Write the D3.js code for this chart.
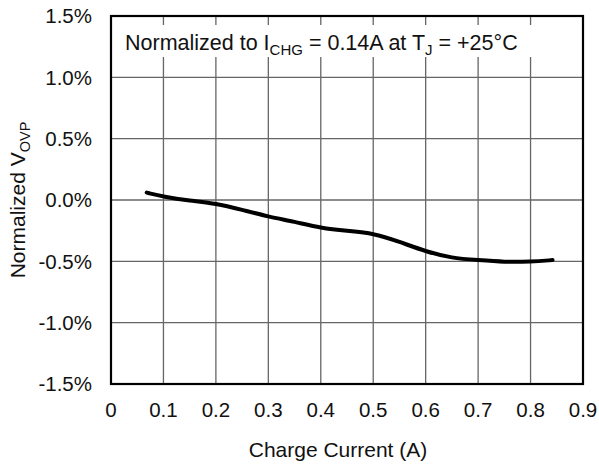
<!DOCTYPE html>
<html>
<head>
<meta charset="utf-8">
<script src="https://cdn.jsdelivr.net/npm/d3@7"></script>
<style>
  body { margin: 0; background: #fff; }
  text { font-family: "Liberation Sans", Arial, sans-serif; fill: #111; }
</style>
</head>
<body>
<div id="chart"></div>
<script>
// Datos (corriente en A, V_OVP normalizado en %)
const corriente = [0.068, 0.10, 0.15, 0.20, 0.25, 0.30, 0.35, 0.40, 0.45, 0.50, 0.55, 0.60, 0.65, 0.70, 0.75, 0.80, 0.842];
const vovp = [0.06, 0.027, -0.005, -0.027, -0.08, -0.136, -0.177, -0.228, -0.252, -0.27, -0.34, -0.42, -0.474, -0.49, -0.506, -0.503, -0.49];
const xTicks = [0, 0.1, 0.2, 0.3, 0.4, 0.5, 0.6, 0.7, 0.8, 0.9];
const yTicks = [-1.5, -1.0, -0.5, 0.0, 0.5, 1.0, 1.5];

const width = 599, height = 465;
const margin = { left: 111, right: 16, top: 16, bottom: 81 };

const svg = d3.select("#chart").append("svg")
    .attr("width", width)
    .attr("height", height);

const x = d3.scaleLinear().domain([0, 0.9]).range([margin.left, width - margin.right]);
const y = d3.scaleLinear().domain([-1.5, 1.5]).range([height - margin.bottom, margin.top]);

// Rejilla
svg.append("g")
    .selectAll("line.v")
    .data(xTicks.slice(1, -1))
    .join("line")
    .attr("x1", d => x(d)).attr("x2", d => x(d))
    .attr("y1", y(1.5)).attr("y2", y(-1.5))
    .attr("stroke", "#666").attr("stroke-width", 1.3);

svg.append("g")
    .selectAll("line.h")
    .data(yTicks.slice(1, -1))
    .join("line")
    .attr("x1", x(0)).attr("x2", x(0.9))
    .attr("y1", d => y(d)).attr("y2", d => y(d))
    .attr("stroke", "#666").attr("stroke-width", 1.3);

// Caja blanca detras del titulo
svg.append("rect")
    .attr("x", x(0) + 3)
    .attr("y", 25)
    .attr("width", x(0.9) - x(0) - 6)
    .attr("height", 32)
    .attr("fill", "#fff");

// Curva
const line = d3.line()
    .x((d, i) => x(corriente[i]))
    .y(d => y(d))
    .curve(d3.curveBasis);

svg.append("path")
    .datum(vovp)
    .attr("fill", "none")
    .attr("stroke", "#000")
    .attr("stroke-width", 4)
    .attr("stroke-linecap", "round")
    .attr("d", line);

// Marco
svg.append("rect")
    .attr("x", x(0)).attr("y", y(1.5))
    .attr("width", x(0.9) - x(0))
    .attr("height", y(-1.5) - y(1.5))
    .attr("fill", "none")
    .attr("stroke", "#000")
    .attr("stroke-width", 2.2);

// Etiquetas de ejes (guion normal, no el signo menos unicode)
const fmtY = d => d3.format(".1f")(d).replace("\u2212", "-");
svg.append("g")
    .selectAll("text")
    .data(yTicks)
    .join("text")
    .attr("x", 92)
    .attr("y", d => y(d))
    .attr("dy", "0.36em")
    .attr("text-anchor", "end")
    .attr("font-size", 20.5)
    .text(d => fmtY(d) + "%");

svg.append("g")
    .selectAll("text")
    .data(xTicks)
    .join("text")
    .attr("x", d => x(d))
    .attr("y", 417)
    .attr("text-anchor", "middle")
    .attr("font-size", 20.5)
    .text(d => d === 0 ? "0" : d3.format(".1f")(d));

svg.append("text")
    .attr("x", 338)
    .attr("y", 457)
    .attr("text-anchor", "middle")
    .attr("font-size", 21)
    .text("Charge Current (A)");

const yl = svg.append("text")
    .attr("transform", "translate(25,200) rotate(-90)")
    .attr("text-anchor", "middle")
    .attr("font-size", 21);
yl.append("tspan").text("Normalized V");
yl.append("tspan").attr("font-size", 14.5).attr("dy", 5).text("OVP");

// Titulo
const t = svg.append("text")
    .attr("x", 125)
    .attr("y", 50)
    .attr("font-size", 21.5);
t.append("tspan").text("Normalized to I");
t.append("tspan").attr("font-size", 15).attr("dy", 5).text("CHG");
t.append("tspan").attr("dy", -5).text(" = 0.14A at T");
t.append("tspan").attr("font-size", 15).attr("dy", 5).text("J");
t.append("tspan").attr("dy", -5).text(" = +25°C");
</script>
</body>
</html>
